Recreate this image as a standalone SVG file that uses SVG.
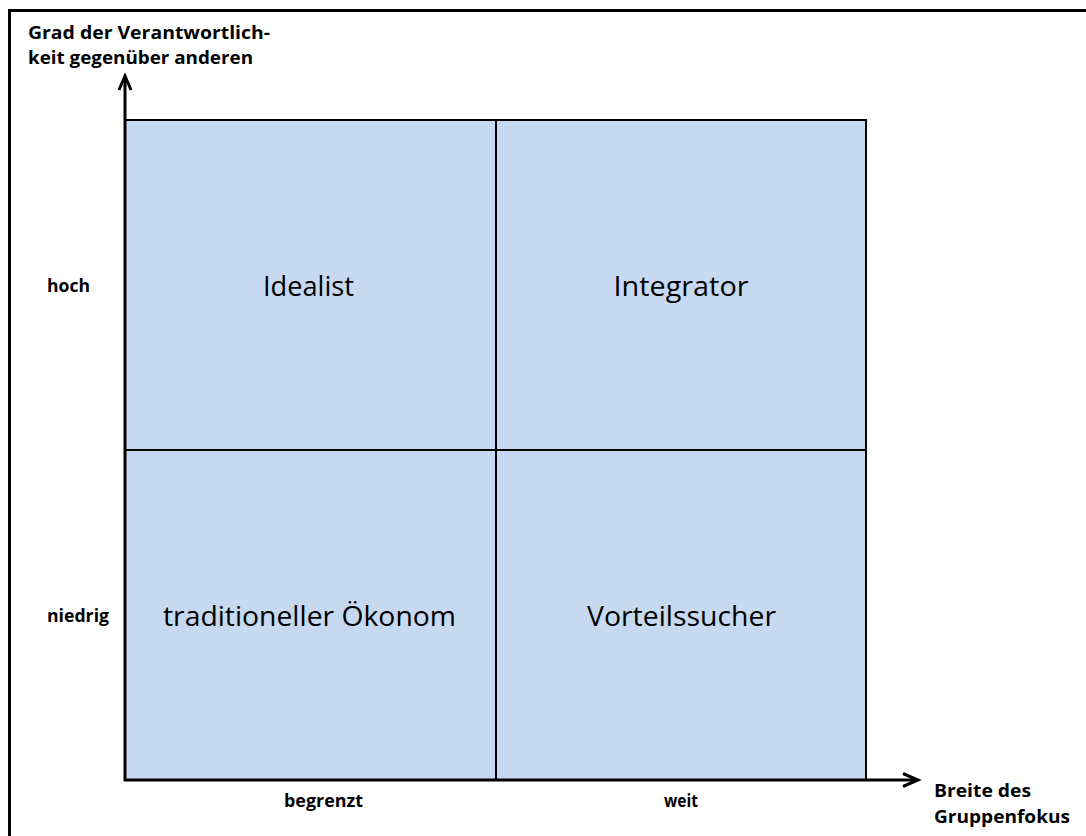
<svg xmlns="http://www.w3.org/2000/svg" width="1086" height="836" viewBox="0 0 1086 836">
<style>
.cell{fill:#C6D9F1;stroke:#000;stroke-width:2}
.q{font-family:"Open Sans","Liberation Sans",sans-serif;font-size:27.5px;fill:#000;text-anchor:middle}
.b{font-family:"Open Sans","Liberation Sans",sans-serif;font-size:18px;font-weight:bold;fill:#000}
.ax{fill:none;stroke:#000;stroke-width:3}
.fr{fill:none;stroke:#000;stroke-width:3}
</style>
<rect x="0" y="0" width="1086" height="836" fill="#fff"/>
<path class="fr" d="M9.5,9 V836 M8,10.5 H1086"/>
<g id="idealist">
<rect class="cell" x="125" y="120" width="371" height="330"/>
<text class="q" x="308.5" y="296" textLength="91" lengthAdjust="spacingAndGlyphs">Idealist</text>
</g>
<g id="integrator">
<rect class="cell" x="496" y="120" width="370" height="330"/>
<text class="q" x="681" y="296" textLength="135" lengthAdjust="spacingAndGlyphs">Integrator</text>
</g>
<g id="oekonom">
<rect class="cell" x="125" y="450" width="371" height="330"/>
<text class="q" x="309.5" y="626" textLength="293" lengthAdjust="spacingAndGlyphs">traditioneller Ökonom</text>
</g>
<g id="vorteilssucher">
<rect class="cell" x="496" y="450" width="370" height="330"/>
<text class="q" x="681.5" y="626" textLength="189" lengthAdjust="spacingAndGlyphs">Vorteilssucher</text>
</g>
<g id="connectors">
<path class="ax" d="M125,781 V77"/>
<path class="ax" d="M119,90 L125,76 L131,90"/>
<path class="ax" d="M124,780 H917"/>
<path class="ax" d="M903,773.5 L918,780 L903,786.5"/>
</g>
<g id="y-axis-label">
<text class="b" x="28" y="39" textLength="242" lengthAdjust="spacingAndGlyphs">Grad der Verantwortlich-</text>
<text class="b" x="28" y="64" textLength="225" lengthAdjust="spacingAndGlyphs">keit gegenüber anderen</text>
</g>
<g id="x-axis-label">
<text class="b" x="934" y="797" textLength="97" lengthAdjust="spacingAndGlyphs">Breite des</text>
<text class="b" x="934" y="823" textLength="136" lengthAdjust="spacingAndGlyphs">Gruppenfokus</text>
</g>
<g id="tick-labels">
<text class="b" x="47" y="292" textLength="43" lengthAdjust="spacingAndGlyphs">hoch</text>
<text class="b" x="47" y="622" textLength="62" lengthAdjust="spacingAndGlyphs">niedrig</text>
<text class="b" x="284" y="807" textLength="79" lengthAdjust="spacingAndGlyphs">begrenzt</text>
<text class="b" x="664" y="807" textLength="34" lengthAdjust="spacingAndGlyphs">weit</text>
</g>
</svg>
